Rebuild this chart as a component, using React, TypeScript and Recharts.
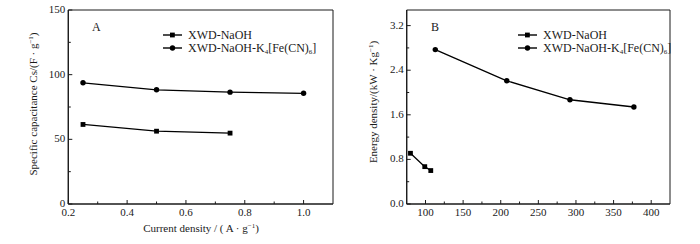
import React from 'react';
import { LineChart, Line, XAxis, YAxis, ReferenceArea } from 'recharts';

// panel A: specific capacitance vs current density
const currentNaOH = [0.25, 0.5, 0.75];
const capNaOH = [61.5, 56.3, 54.8];
const currentK4 = [0.25, 0.5, 0.75, 1.0];
const capK4 = [93.7, 88.3, 86.5, 85.6];

// panel B: energy density vs power density
const powerNaOH = [80, 99, 107];
const energyNaOH = [0.91, 0.67, 0.6];
const powerK4 = [113, 208, 292, 377];
const energyK4 = [2.77, 2.21, 1.87, 1.74];

const SERIES = ['XWD-NaOH', 'XWD-NaOH-K4[Fe(CN)6]'];

const A_X_MAJOR = [0.2, 0.4, 0.6, 0.8, 1.0];
const A_X_MINOR = [0.3, 0.5, 0.7, 0.9];
const A_Y_MAJOR = [0, 50, 100, 150];
const A_Y_MINOR = [25, 75, 125];
const B_X_MAJOR = [100, 150, 200, 250, 300, 350, 400];
const B_X_MINOR = [125, 175, 225, 275, 325, 375];
const B_Y_MAJOR = [0, 0.8, 1.6, 2.4, 3.2];
const B_Y_MINOR = [0.4, 1.2, 2.0, 2.8];

const FONT = '"Liberation Serif", "Times New Roman", serif';
const INK = '#1a1a1a';

const zip = (xs: number[], ys: number[]) => xs.map((x, i) => ({ x, y: ys[i] }));

const isMajor = (v: number, majors: number[]) => majors.some((m) => Math.abs(m - v) < 1e-6);

const textStyle = { fontFamily: FONT, fontSize: 11 };

const bottomTick = (majors: number[], fmt: (v: number) => string) => (props: any) => {
  const { x, y, payload } = props;
  const major = isMajor(payload.value, majors);
  return (
    <g>
      <line x1={x} x2={x} y1={y} y2={y - (major ? 4 : 2.5)} stroke={INK} strokeWidth={1} />
      {major && (
        <text x={x} y={y + 12} textAnchor="middle" style={textStyle} fill={INK}>
          {fmt(payload.value)}
        </text>
      )}
    </g>
  );
};

const leftTick = (majors: number[], fmt: (v: number) => string) => (props: any) => {
  const { x, y, payload } = props;
  const major = isMajor(payload.value, majors);
  return (
    <g>
      <line x1={x} x2={x + (major ? 4 : 2.5)} y1={y} y2={y} stroke={INK} strokeWidth={1} />
      {major && (
        <text x={x - 3} y={y + 3} textAnchor="end" style={textStyle} fill={INK}>
          {fmt(payload.value)}
        </text>
      )}
    </g>
  );
};

const squareDot = (props: any) => {
  const { cx, cy, key } = props;
  return <rect key={key} x={cx - 2.4} y={cy - 2.4} width={4.8} height={4.8} fill="#000" />;
};

const roundDot = (props: any) => {
  const { cx, cy, key } = props;
  return <circle key={key} cx={cx} cy={cy} r={2.7} fill="#000" />;
};

const subStyle: React.CSSProperties = { fontSize: 7, verticalAlign: -2, lineHeight: 0 };

const SeriesName = ({ name }: { name: string }) => {
  if (name === SERIES[1]) {
    return (
      <span>
        XWD-NaOH-K<sub style={subStyle}>4</sub>[Fe(CN)<sub style={subStyle}>6</sub>]
      </span>
    );
  }
  return <span>{name}</span>;
};

const LegendBox = ({ left, top }: { left: number; top: number }) => (
  <div style={{ position: 'absolute', left, top, fontFamily: FONT, fontSize: 12, color: INK, lineHeight: '12.7px', whiteSpace: 'nowrap' }}>
    {SERIES.map((name, i) => (
      <div key={name} style={{ display: 'flex', alignItems: 'center', height: 12.7 }}>
        <svg width={19} height={8} style={{ marginRight: 6 }}>
          <line x1={0} x2={19} y1={4} y2={4} stroke="#000" strokeWidth={1.4} />
          {i === 0 ? (
            <rect x={7} y={1.6} width={4.8} height={4.8} fill="#000" />
          ) : (
            <circle cx={9.5} cy={4} r={2.7} fill="#000" />
          )}
        </svg>
        <SeriesName name={name} />
      </div>
    ))}
  </div>
);

const labelStyle: React.CSSProperties = {
  position: 'absolute',
  fontFamily: FONT,
  fontSize: 11,
  color: INK,
  whiteSpace: 'nowrap',
};

const supStyle: React.CSSProperties = { fontSize: 7, verticalAlign: 4, lineHeight: 0 };

const App = () => {
  const aNaOH = zip(currentNaOH, capNaOH);
  const aK4 = zip(currentK4, capK4);
  const bNaOH = zip(powerNaOH, energyNaOH);
  const bK4 = zip(powerK4, energyK4);

  return (
    <div style={{ position: 'absolute', left: 0, top: 0, width: 700, height: 244, background: '#fff' }}>
      <div style={{ position: 'absolute', left: 0, top: 0 }}>
        <LineChart width={350} height={244} margin={{ top: 10, right: 17, bottom: 0, left: 0 }}>
          <XAxis
            type="number"
            dataKey="x"
            domain={[0.2, 1.1]}
            ticks={[...A_X_MAJOR, ...A_X_MINOR]}
            interval={0}
            height={40}
            tickSize={0}
            tickMargin={0}
            tickLine={false}
            axisLine={{ stroke: INK, strokeWidth: 1.2 }}
            tick={bottomTick(A_X_MAJOR, (v) => v.toFixed(1))}
            allowDataOverflow
          />
          <YAxis
            type="number"
            dataKey="y"
            domain={[0, 150]}
            ticks={[...A_Y_MAJOR, ...A_Y_MINOR]}
            interval={0}
            width={68.3}
            tickSize={0}
            tickMargin={0}
            tickLine={false}
            axisLine={{ stroke: INK, strokeWidth: 1.2 }}
            tick={leftTick(A_Y_MAJOR, (v) => String(v))}
            allowDataOverflow
          />
          <ReferenceArea x1={0.2} x2={1.1} y1={0} y2={150} fill="none" stroke={INK} strokeWidth={1} />
          <Line data={aNaOH} dataKey="y" name={SERIES[0]} stroke="#000" strokeWidth={1.3} dot={squareDot} isAnimationActive={false} />
          <Line data={aK4} dataKey="y" name={SERIES[1]} stroke="#000" strokeWidth={1.3} dot={roundDot} isAnimationActive={false} />
        </LineChart>
      </div>
      <div style={{ position: 'absolute', left: 350, top: 0 }}>
        <LineChart width={350} height={244} margin={{ top: 10, right: 30, bottom: 0, left: 0 }}>
          <XAxis
            type="number"
            dataKey="x"
            domain={[75, 425]}
            ticks={[...B_X_MAJOR, ...B_X_MINOR]}
            interval={0}
            height={40}
            tickSize={0}
            tickMargin={0}
            tickLine={false}
            axisLine={{ stroke: INK, strokeWidth: 1.2 }}
            tick={bottomTick(B_X_MAJOR, (v) => String(v))}
            allowDataOverflow
          />
          <YAxis
            type="number"
            dataKey="y"
            domain={[0, 3.48]}
            ticks={[...B_Y_MAJOR, ...B_Y_MINOR]}
            interval={0}
            width={56.7}
            tickSize={0}
            tickMargin={0}
            tickLine={false}
            axisLine={{ stroke: INK, strokeWidth: 1.2 }}
            tick={leftTick(B_Y_MAJOR, (v) => v.toFixed(1))}
            allowDataOverflow
          />
          <ReferenceArea x1={75} x2={425} y1={0} y2={3.48} fill="none" stroke={INK} strokeWidth={1} />
          <Line data={bNaOH} dataKey="y" name={SERIES[0]} stroke="#000" strokeWidth={1.3} dot={squareDot} isAnimationActive={false} />
          <Line data={bK4} dataKey="y" name={SERIES[1]} stroke="#000" strokeWidth={1.3} dot={roundDot} isAnimationActive={false} />
        </LineChart>
      </div>

      <LegendBox left={163} top={29} />
      <LegendBox left={518} top={29} />

      <div style={{ ...labelStyle, left: 92, top: 20, fontSize: 12 }}>A</div>
      <div style={{ ...labelStyle, left: 431, top: 20, fontSize: 12 }}>B</div>

      <div style={{ ...labelStyle, left: 33, top: 104, transform: 'translate(-50%, -50%) rotate(-90deg)' }}>
        Specific capacitance Cs/(F · g<sup style={supStyle}>−1</sup>)
      </div>
      <div style={{ ...labelStyle, left: 373, top: 102, transform: 'translate(-50%, -50%) rotate(-90deg)' }}>
        Energy density/(kW · Kg<sup style={supStyle}>−1</sup>)
      </div>
      <div style={{ ...labelStyle, left: 201, top: 228, transform: 'translate(-50%, -50%)' }}>
        Current density / ( A · g<sup style={supStyle}>−1</sup>)
      </div>
    </div>
  );
};

export default App;
